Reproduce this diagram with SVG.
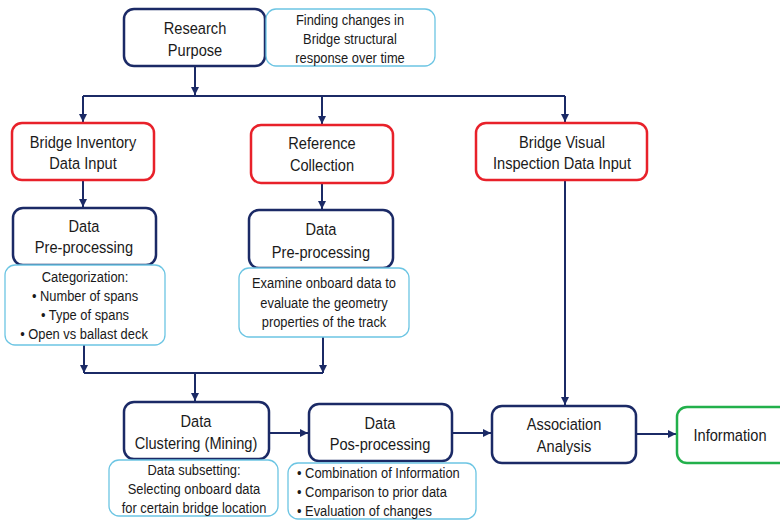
<svg xmlns="http://www.w3.org/2000/svg" width="780" height="520" viewBox="0 0 780 520">
<style>
.main{fill:#fff;stroke:#1b2a66;stroke-width:2.5}
.red{fill:#fff;stroke:#e8212a;stroke-width:2.5}
.grn{fill:#fff;stroke:#22b04b;stroke-width:2.5}
.sub{fill:#fff;stroke:#6cc5e3;stroke-width:1.3}
text{font-family:"Liberation Sans",Arial,sans-serif;fill:#1a1a1a;text-anchor:middle}
.t{font-size:17px}
.s{font-size:15px}
.l{text-anchor:start}
.c{fill:none;stroke:#1b2a66;stroke-width:2}
</style>
<defs>
<marker id="ah" viewBox="0 0 10 10" refX="10" refY="5" markerWidth="4" markerHeight="4" orient="auto" markerUnits="strokeWidth">
<path d="M0,0 L10,5 L0,10 z" fill="#1b2a66"/>
</marker>
</defs>
<g id="connectors">
<path class="c" d="M195,67 V95" marker-end="url(#ah)"/>
<path class="c" d="M83,96 H565"/>
<path class="c" d="M83,96 V122" marker-end="url(#ah)"/>
<path class="c" d="M322,96 V124" marker-end="url(#ah)"/>
<path class="c" d="M565,96 V122" marker-end="url(#ah)"/>
<path class="c" d="M83,180 V207" marker-end="url(#ah)"/>
<path class="c" d="M322,183 V209" marker-end="url(#ah)"/>
<path class="c" d="M84,345 V373" marker-end="url(#ah)"/>
<path class="c" d="M323,337 V373" marker-end="url(#ah)"/>
<path class="c" d="M84,373 H323"/>
<path class="c" d="M195,373 V401" marker-end="url(#ah)"/>
<path class="c" d="M565,180 V405" marker-end="url(#ah)"/>
<path class="c" d="M269,433 H308" marker-end="url(#ah)"/>
<path class="c" d="M452,433 H491" marker-end="url(#ah)"/>
<path class="c" d="M636,434 H676" marker-end="url(#ah)"/>
</g>
<g id="research-purpose">
<rect class="main" x="124" y="9" width="141" height="57" rx="10"/>
<text class="t" transform="translate(195 0) scale(.86 1)" x="0" y="34">Research</text>
<text class="t" transform="translate(195 0) scale(.86 1)" x="0" y="56">Purpose</text>
</g>
<g id="finding">
<rect class="sub" x="266" y="9" width="169" height="57" rx="10"/>
<text class="s" transform="translate(350 0) scale(.86 1)" x="0" y="25">Finding changes in</text>
<text class="s" transform="translate(350 0) scale(.86 1)" x="0" y="44">Bridge structural</text>
<text class="s" transform="translate(350 0) scale(.86 1)" x="0" y="63">response over time</text>
</g>
<g id="bridge-inventory">
<rect class="red" x="12" y="123" width="142" height="57" rx="10"/>
<text class="t" transform="translate(83 0) scale(.86 1)" x="0" y="148">Bridge Inventory</text>
<text class="t" transform="translate(83 0) scale(.86 1)" x="0" y="169">Data Input</text>
</g>
<g id="reference-collection">
<rect class="red" x="251" y="125" width="142" height="58" rx="10"/>
<text class="t" transform="translate(322 0) scale(.86 1)" x="0" y="149">Reference</text>
<text class="t" transform="translate(322 0) scale(.86 1)" x="0" y="171">Collection</text>
</g>
<g id="visual-inspection">
<rect class="red" x="476" y="123" width="171" height="57" rx="10"/>
<text class="t" transform="translate(562 0) scale(.86 1)" x="0" y="148">Bridge Visual</text>
<text class="t" transform="translate(562 0) scale(.86 1)" x="0" y="169">Inspection Data Input</text>
</g>
<g id="preprocessing-1">
<rect class="main" x="13" y="208" width="143" height="57" rx="10"/>
<text class="t" transform="translate(84 0) scale(.86 1)" x="0" y="232">Data</text>
<text class="t" transform="translate(84 0) scale(.86 1)" x="0" y="253">Pre-processing</text>
</g>
<g id="categorization">
<rect class="sub" x="5" y="265" width="160" height="80" rx="10"/>
<text class="s" transform="translate(85 0) scale(.86 1)" x="0" y="282">Categorization:</text>
<text class="s" transform="translate(85 0) scale(.86 1)" x="0" y="301">• Number of spans</text>
<text class="s" transform="translate(85 0) scale(.86 1)" x="0" y="320">• Type of spans</text>
<text class="s" transform="translate(84 0) scale(.86 1)" x="0" y="339">• Open vs ballast deck</text>
</g>
<g id="preprocessing-2">
<rect class="main" x="249" y="210" width="144" height="58" rx="10"/>
<text class="t" transform="translate(321 0) scale(.86 1)" x="0" y="235">Data</text>
<text class="t" transform="translate(321 0) scale(.86 1)" x="0" y="258">Pre-processing</text>
</g>
<g id="examine">
<rect class="sub" x="239" y="268" width="170" height="69" rx="10"/>
<text class="s" transform="translate(324 0) scale(.86 1)" x="0" y="288">Examine  onboard data to</text>
<text class="s" transform="translate(324 0) scale(.86 1)" x="0" y="308">evaluate the geometry</text>
<text class="s" transform="translate(324 0) scale(.86 1)" x="0" y="327">properties of the track</text>
</g>
<g id="clustering">
<rect class="main" x="124" y="402" width="145" height="57" rx="10"/>
<text class="t" transform="translate(196 0) scale(.86 1)" x="0" y="427">Data</text>
<text class="t" transform="translate(196 0) scale(.86 1)" x="0" y="449">Clustering (Mining)</text>
</g>
<g id="subsetting">
<rect class="sub" x="109" y="460" width="169" height="56" rx="10"/>
<text class="s" transform="translate(194 0) scale(.86 1)" x="0" y="475">Data subsetting:</text>
<text class="s" transform="translate(194 0) scale(.86 1)" x="0" y="494">Selecting onboard data</text>
<text class="s" transform="translate(194 0) scale(.86 1)" x="0" y="513">for certain bridge location</text>
</g>
<g id="posprocessing">
<rect class="main" x="309" y="404" width="143" height="57" rx="10"/>
<text class="t" transform="translate(380 0) scale(.86 1)" x="0" y="429">Data</text>
<text class="t" transform="translate(380 0) scale(.86 1)" x="0" y="450">Pos-processing</text>
</g>
<g id="evaluation">
<rect class="sub" x="288" y="463" width="188" height="56" rx="10"/>
<text class="s l" transform="translate(297 0) scale(.86 1)" x="0" y="478">• Combination of Information</text>
<text class="s l" transform="translate(297 0) scale(.86 1)" x="0" y="497">• Comparison to prior data</text>
<text class="s l" transform="translate(297 0) scale(.86 1)" x="0" y="516">• Evaluation of changes</text>
</g>
<g id="association">
<rect class="main" x="492" y="406" width="144" height="57" rx="10"/>
<text class="t" transform="translate(564 0) scale(.86 1)" x="0" y="430">Association</text>
<text class="t" transform="translate(564 0) scale(.86 1)" x="0" y="452">Analysis</text>
</g>
<g id="information">
<rect class="grn" x="677" y="407" width="115" height="56" rx="10"/>
<text class="t" transform="translate(730 0) scale(.86 1)" x="0" y="441">Information</text>
</g>
</svg>
